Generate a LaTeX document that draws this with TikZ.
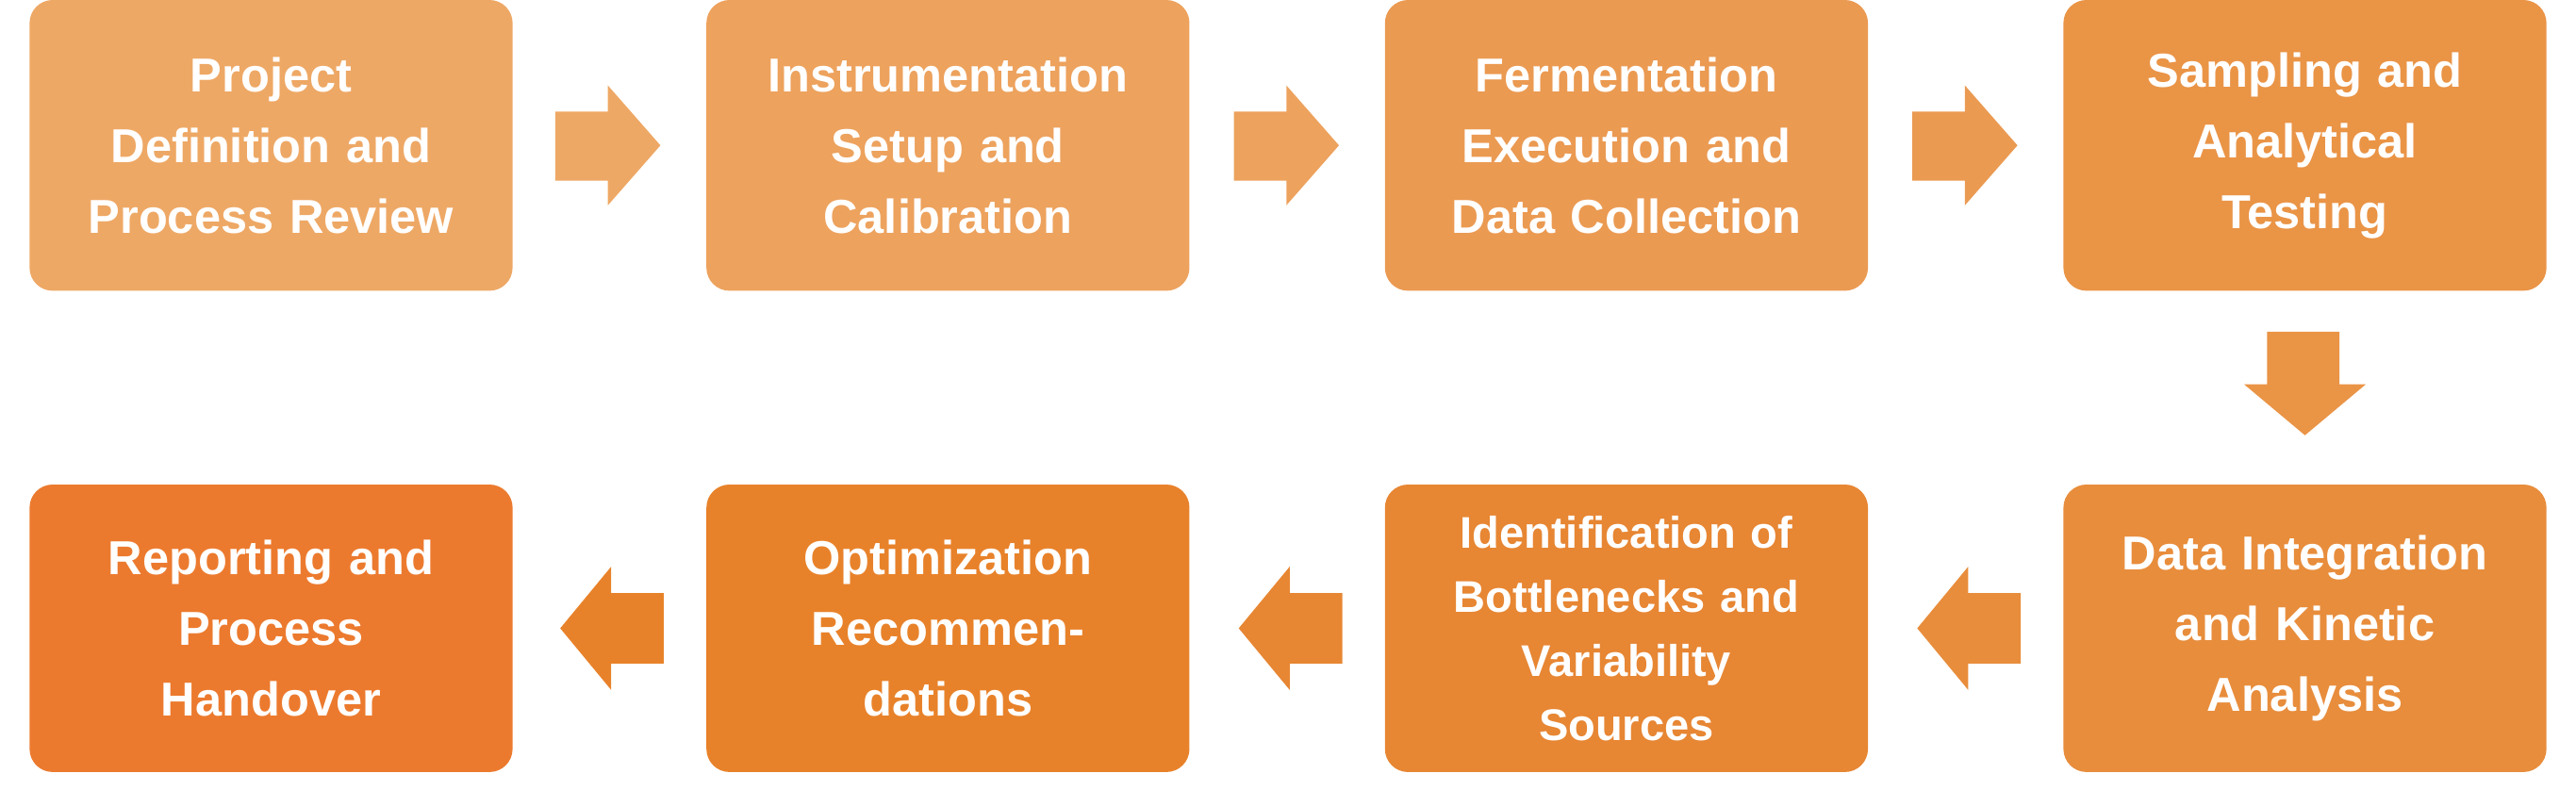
\documentclass[tikz,border=0pt]{standalone}
\usepackage{fontspec}
\setmainfont{Liberation Sans}
\begin{document}
\begin{tikzpicture}[x=1pt,y=-1pt,
  box/.style={rounded corners=14pt,minimum width=294pt,minimum height=177pt,inner sep=0pt,text=white,font=\bfseries\fontsize{29}{43}\selectfont,align=center,text width=280pt}]
\definecolor{c1}{HTML}{EEA865}\definecolor{c2}{HTML}{EDA25D}\definecolor{c3}{HTML}{EB9A52}
\definecolor{c4}{HTML}{EA9446}\definecolor{c5}{HTML}{E88D3C}\definecolor{c6}{HTML}{E78633}
\definecolor{c7}{HTML}{E8822A}\definecolor{c8}{HTML}{EC7A2E}
\useasboundingbox (0,0) rectangle (1568,480.4);
\node[box,fill=c1] (b1) at (165,88.5) {Project\\Definition and\\Process Review};
\node[box,fill=c2] (b2) at (577,88.5) {Instrumentation\\Setup and\\Calibration};
\node[box,fill=c3] (b3) at (990,88.5) {Fermentation\\Execution and\\Data Collection};
\node[box,fill=c4] (b4) at (1403,88.5) {Sampling and\\Analytical\\Testing};
\node[box,fill=c5,minimum height=175pt] (b5) at (1403,382.5) {Data Integration\\and Kinetic\\Analysis};
\node[box,fill=c6,minimum height=175pt,font=\bfseries\fontsize{27}{39}\selectfont] (b6) at (990,382.5) {Identification of\\Bottlenecks and\\Variability\\Sources};
\node[box,fill=c7,minimum height=175pt] (b7) at (577,382.5) {Optimization\\Recommen-\\dations};
\node[box,fill=c8,minimum height=175pt] (b8) at (165,382.5) {Reporting and\\Process\\Handover};
% right arrows
\foreach \x/\c in {338/c1,751/c2,1164/c3}{
  \fill[\c] (\x,68) -- (\x+32,68) -- (\x+32,52) -- (\x+64,88.5) -- (\x+32,125) -- (\x+32,110) -- (\x,110) -- cycle;}
% down arrow
\fill[c4] (1380,202) -- (1424,202) -- (1424,234) -- (1440,234) -- (1403,265) -- (1366,234) -- (1380,234) -- cycle;
% left arrows
\foreach \x/\c in {1230/c5,817/c6,404/c7}{
  \fill[\c] (\x,361) -- (\x-32,361) -- (\x-32,345) -- (\x-63,382.5) -- (\x-32,420) -- (\x-32,404) -- (\x,404) -- cycle;}
\end{tikzpicture}
\end{document}
